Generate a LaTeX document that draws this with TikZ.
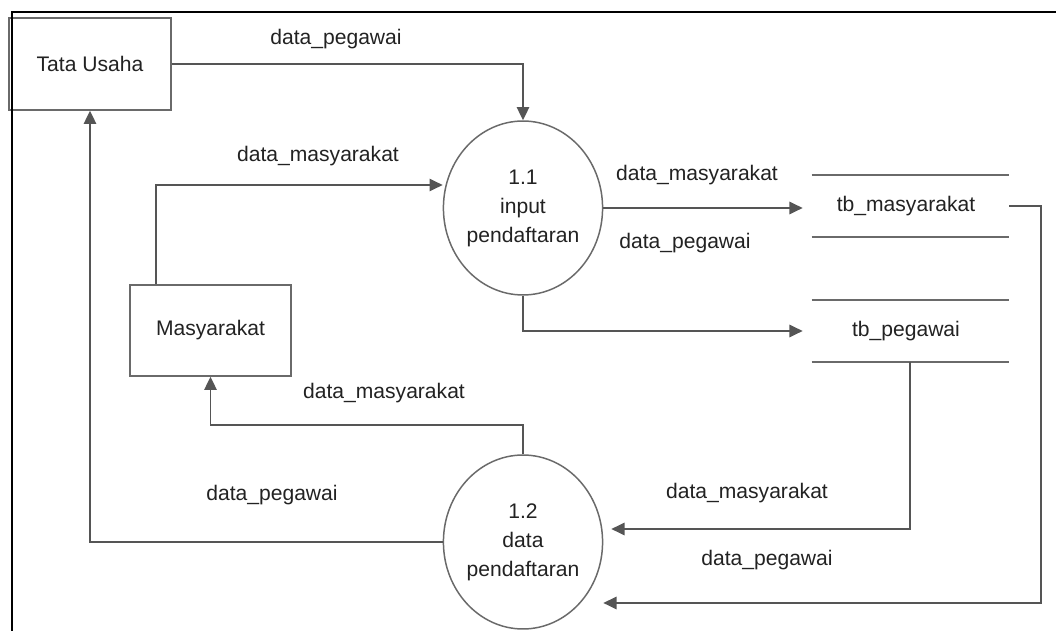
\documentclass[tikz,border=0pt]{standalone}
\usepackage{fontspec}
\setmainfont{Liberation Sans}
\usetikzlibrary{arrows.meta,shapes.geometric}
\definecolor{linegray}{HTML}{555555}
\definecolor{boxgray}{HTML}{6A6A6A}
\definecolor{textgray}{HTML}{222222}
\begin{document}
\begin{tikzpicture}[x=0.02cm,y=-0.02cm,
  every node/.style={font=\fontsize{12}{16.5}\selectfont, text=textgray},
  entity/.style={draw=boxgray, line width=0.85pt, inner sep=0},
  process/.style={ellipse, draw=boxgray, line width=0.85pt, minimum width=3.16cm,
                  minimum height=3.48cm, align=center, inner sep=0},
  store/.style={minimum width=4.12cm, minimum height=1.22cm, inner sep=0},
  storeline/.style={draw=boxgray, line width=0.85pt},
  flow/.style={draw=linegray, line width=1.1pt, -{Triangle[length=7.5pt,width=7pt]}},
  lbl/.style={inner sep=0}]
\useasboundingbox (0,0) rectangle (1056,631);

% external entities
\node[entity, minimum width=3.24cm, minimum height=1.84cm] (tu) at (90,64) {Tata Usaha};
\node[entity, minimum width=3.22cm, minimum height=1.82cm] (ms) at (210.5,330.5) {Masyarakat};

% processes
\node[process] (p1) at (523,208) {1.1\\input\\pendaftaran};
\node[process] (p2) at (523,542) {1.2\\data\\pendaftaran};

% data stores
\node[store] (tbm) at (906,206) {tb\_masyarakat};
\node[store] (tbp) at (906,331) {tb\_pegawai};
\foreach \s in {tbm,tbp}{
  \draw[storeline] ([xshift=0.18cm]\s.north west) -- (\s.north east);
  \draw[storeline] ([xshift=0.18cm]\s.south west) -- (\s.south east);
}

% data flows
\draw[flow] (tu.east) -| (p1.north);
\draw[flow] ([xshift=0.54cm]ms.north west) |- ([yshift=0.46cm]p1.west);
\draw[flow] (p1.east) -- (p1.east -| tbm.west);
\draw[flow] (p1.south) |- (tbp.west);
\draw[flow] (tbm.east) -- ++(32,0) |- ([yshift=-1.22cm]p2.east);
\draw[flow, shorten >=0.16cm] ([xshift=0.08cm]tbp.south) |- ([yshift=0.26cm]p2.east);
\draw[flow] (p2.north) -- ++(0,-29) -| (ms.south);
\draw[flow] (p2.west) -| (tu.south);

% flow labels
\node[lbl] (l1) at (336,39) {data\_pegawai};
\node[lbl] (l2) at (318,156) {data\_masyarakat};
\node[lbl] (l3) at (697,175) {data\_masyarakat};
\node[lbl] (l4) at (685,243) {data\_pegawai};
\node[lbl] (l5) at (384,393) {data\_masyarakat};
\node[lbl] (l6) at (272,495) {data\_pegawai};
\node[lbl] (l7) at (747,493) {data\_masyarakat};
\node[lbl] (l8) at (767,560) {data\_pegawai};

% page frame
\draw[line width=1.4pt] (12,631) -- (12,12) -- (1056,12);
\end{tikzpicture}
\end{document}
